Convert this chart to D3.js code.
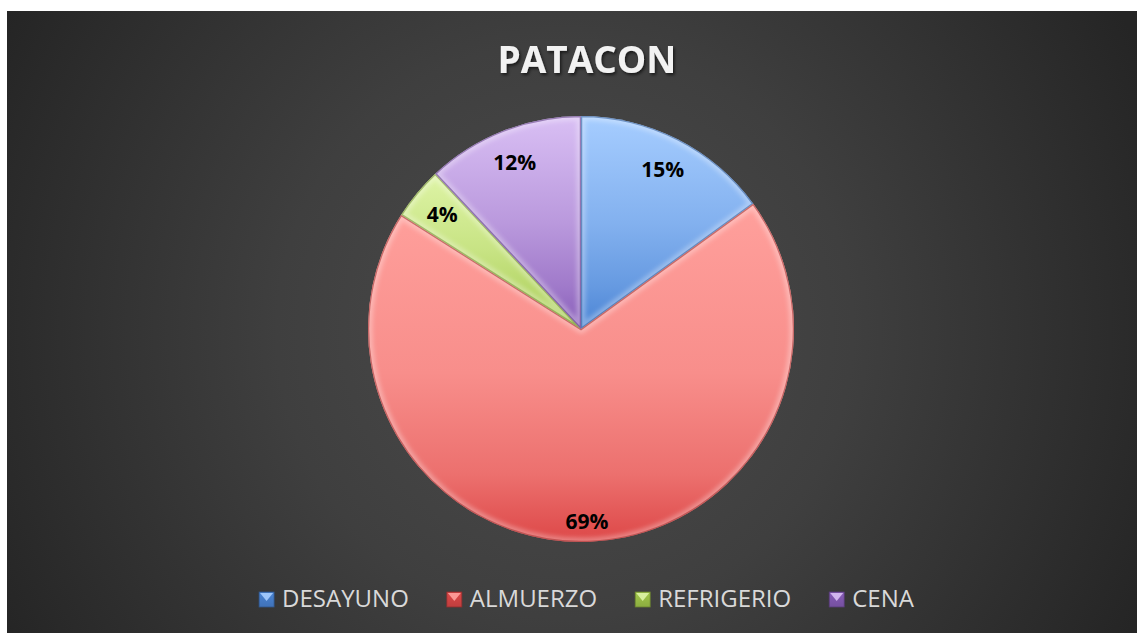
<!DOCTYPE html>
<html lang="es">
<head>
<meta charset="UTF-8">
<title>PATACON</title>
<style>
  html, body { margin: 0; padding: 0; background: #ffffff; }
  svg { display: block; }
</style>
</head>
<body>
<div id="chart"></div>
<script src="https://d3js.org/d3.v7.min.js"></script>
<script>
// datos del grafico
const categorias = ["DESAYUNO", "ALMUERZO", "REFRIGERIO", "CENA"];
const valores = [15, 69, 4, 12];
const titulo = "PATACON";
// colores: claro (arriba) y oscuro (abajo) de cada porcion
const coloresClaros = ["#a6cdff", "#ffa09c", "#def4a6", "#d9bff4"];
const coloresOscuros = ["#4a84d4", "#dd4848", "#a2c84a", "#875cb8"];

const W = 1142, H = 633;
const frame = { x: 7, y: 11, w: 1130, h: 622 };
const cx = 581, cy = 329, R = 213;

const svg = d3.select("#chart").append("svg")
  .attr("width", W).attr("height", H);

const defs = svg.append("defs");

// fondo oscuro con degradado radial
const bg = defs.append("radialGradient").attr("id", "bg")
  .attr("gradientUnits", "userSpaceOnUse")
  .attr("cx", 565).attr("cy", 330).attr("r", 640);
bg.append("stop").attr("offset", "0%").attr("stop-color", "#4c4c4c");
bg.append("stop").attr("offset", "45%").attr("stop-color", "#3f3f3f");
bg.append("stop").attr("offset", "100%").attr("stop-color", "#252525");

svg.append("rect")
  .attr("x", frame.x).attr("y", frame.y)
  .attr("width", frame.w).attr("height", frame.h)
  .attr("fill", "url(#bg)");

// degradado vertical de cada porcion (sobre su propio recuadro)
categorias.forEach((c, i) => {
  const g = defs.append("linearGradient").attr("id", "g" + i)
    .attr("x1", 0).attr("y1", 0).attr("x2", 0).attr("y2", 1);
  const mix = d3.interpolateRgb(coloresClaros[i], coloresOscuros[i]);
  const big = valores[i] > 50;
  g.append("stop").attr("offset", "0%").attr("stop-color", coloresClaros[i]);
  g.append("stop").attr("offset", "50%").attr("stop-color", mix(big ? 0.2 : 0.38));
  g.append("stop").attr("offset", "80%").attr("stop-color", mix(big ? 0.55 : 0.7));
  g.append("stop").attr("offset", "100%").attr("stop-color", coloresOscuros[i]);
});

// sombras y bisel
const blur = defs.append("filter").attr("id", "blur")
  .attr("x", "-10%").attr("y", "-10%").attr("width", "120%").attr("height", "120%");
blur.append("feGaussianBlur").attr("stdDeviation", 2.2);

const textShadow = defs.append("filter").attr("id", "tshadow")
  .attr("x", "-10%").attr("y", "-20%").attr("width", "130%").attr("height", "150%");
textShadow.append("feDropShadow")
  .attr("dx", 1.5).attr("dy", 2).attr("stdDeviation", 1.5)
  .attr("flood-color", "#000").attr("flood-opacity", 0.6);

const pie = d3.pie().sort(null).value(d => d)(valores);
const arc = d3.arc().innerRadius(0).outerRadius(R);

const gPie = svg.append("g").attr("transform", `translate(${cx},${cy})`);

pie.forEach((d, i) => {
  defs.append("clipPath").attr("id", "clip" + i)
    .append("path").attr("d", arc(d));
});

const slices = gPie.selectAll("g.slice").data(pie).join("g").attr("class", "slice");

slices.append("path")
  .attr("d", arc)
  .attr("fill", (d, i) => `url(#g${i})`);

// brillo interior del bisel
slices.append("path")
  .attr("d", arc)
  .attr("clip-path", (d, i) => `url(#clip${i})`)
  .attr("fill", "none")
  .attr("stroke", "#ffffff")
  .attr("stroke-opacity", 0.3)
  .attr("stroke-width", 9)
  .attr("stroke-linejoin", "round")
  .attr("filter", "url(#blur)");

// borde oscuro fino
slices.append("path")
  .attr("d", arc)
  .attr("clip-path", (d, i) => `url(#clip${i})`)
  .attr("fill", "none")
  .attr("stroke", (d, i) => d3.color(coloresOscuros[i]).darker(0.8))
  .attr("stroke-opacity", 0.6)
  .attr("stroke-width", 2.5);

// etiquetas de porcentaje
const total = d3.sum(valores);
gPie.selectAll("text.lbl").data(pie).join("text")
  .attr("class", "lbl")
  .attr("transform", d => {
    const r = d.data > 50 ? 192 : 180;
    const a = (d.startAngle + d.endAngle) / 2;
    return `translate(${Math.sin(a) * r},${-Math.cos(a) * r})`;
  })
  .attr("text-anchor", "middle")
  .attr("dy", "0.38em")
  .attr("font-family", "'Open Sans', sans-serif")
  .attr("font-weight", "bold")
  .attr("font-size", 21)
  .attr("fill", "#000")
  .text(d => Math.round(d.data / total * 100) + "%");

// titulo
svg.append("text")
  .attr("x", 587).attr("y", 73)
  .attr("text-anchor", "middle")
  .attr("font-family", "'Open Sans', sans-serif")
  .attr("font-weight", "bold")
  .attr("font-size", 37)
  .attr("fill", "#f2f2f2")
  .attr("filter", "url(#tshadow)")
  .text(titulo);

// leyenda
const legend = svg.append("g");
const box = 15, gapBox = 8, gapItem = 38;
let x = 0;
categorias.forEach((c, i) => {
  const lg = defs.append("linearGradient").attr("id", "lg" + i)
    .attr("x1", 0).attr("y1", 0).attr("x2", 0).attr("y2", 1);
  lg.append("stop").attr("offset", "0%").attr("stop-color", coloresOscuros[i]);
  lg.append("stop").attr("offset", "100%").attr("stop-color", d3.color(coloresOscuros[i]).darker(0.4));
  const it = legend.append("g").attr("transform", `translate(${x},0)`);
  it.append("rect")
    .attr("x", 0).attr("y", 592).attr("width", box).attr("height", box)
    .attr("fill", `url(#lg${i})`)
    .attr("stroke", d3.color(coloresOscuros[i]).darker(1.2))
    .attr("stroke-width", 0.8);
  // triangulo claro de la marca
  it.append("path")
    .attr("d", `M1,593 L${box - 1},593 L${box / 2},${592 + box * 0.6} Z`)
    .attr("fill", coloresClaros[i]).attr("fill-opacity", 0.9);
  const t = it.append("text")
    .attr("x", box + gapBox).attr("y", 607)
    .attr("font-family", "'Open Sans', sans-serif")
    .attr("font-size", 24)
    .attr("fill", "#d9d9d9")
    .text(c);
  x += box + gapBox + t.node().getComputedTextLength() + gapItem;
});
const legW = x - gapItem;
legend.attr("transform", `translate(${586.5 - legW / 2},0)`);
</script>
</body>
</html>
